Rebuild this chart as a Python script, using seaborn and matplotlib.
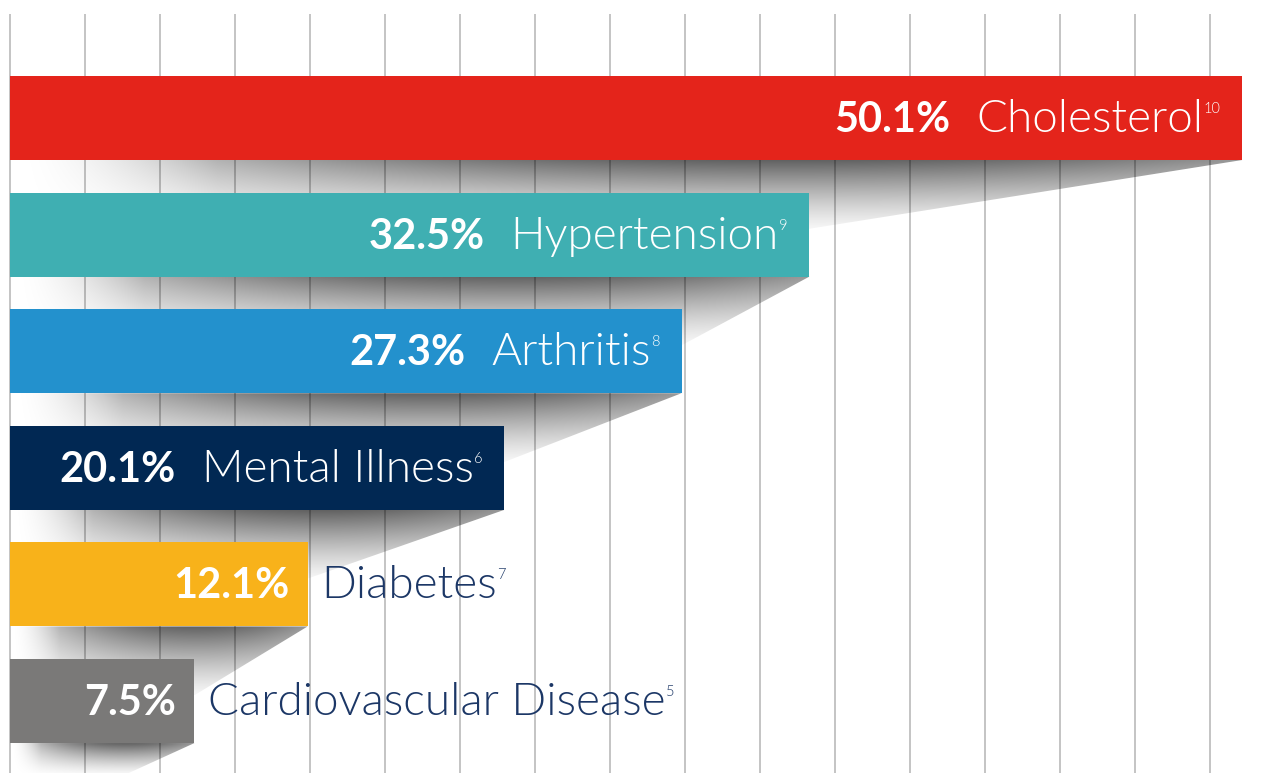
import numpy as np
import pandas as pd
import seaborn as sns
import matplotlib.pyplot as plt
from matplotlib.patches import Polygon

# data
conditions = ["Cholesterol", "Hypertension", "Arthritis", "Mental Illness", "Diabetes", "Cardiovascular Disease"]
rates = [50.1, 32.5, 27.3, 20.1, 12.1, 7.5]
refs = ["10", "9", "8", "6", "7", "5"]
colors = ["#E4241B", "#3FAFB2", "#2391CD", "#012853", "#F8B21A", "#7A7978"]

df = pd.DataFrame({"condition": conditions, "rate": rates})

sns.set_theme(style="white")
plt.rcParams['font.family'] = ['Lato', 'DejaVu Sans']

fig = plt.figure(figsize=(12.8, 7.73), dpi=100)
ax = fig.add_axes([0, 0, 1, 1])

sns.barplot(data=df, x="rate", y="condition", hue="condition", palette=colors,
            orient="h", width=0.72, saturation=1, legend=False, ax=ax, zorder=3,
            linewidth=0, edgecolor="none")

# axis frame in data units (pixel 10 is zero, ~24.6 px per percent)
ax.set_xlim(-0.407, 51.63)
ax.set_ylim(5.617, -1.012)
ax.axis("off")

# vertical grid
grid_step = 75 / 24.6
ax.vlines(np.arange(17) * grid_step, -0.892, 5.7, color="#b4b4b4", lw=1.1, zorder=1)

# gray gradient shadows under each bar
half = 0.36
for i, v in enumerate(rates):
    top = i + half
    if i + 1 < len(rates):
        x2, y2 = rates[i + 1], i + 1 - 0.05
    else:
        x2, y2 = v - 2.7, 5.62
    poly = Polygon([(0, top), (v, top), (x2, y2), (0, y2)], closed=True,
                   facecolor="none", edgecolor="none")
    ax.add_patch(poly)
    nx, ny = 300, 100
    u = np.linspace(0, 1, nx)[None, :]
    w = np.linspace(0, 1, ny)[:, None]
    a = 0.62 * np.sin(0.8 * np.pi * u) ** 0.8 * (1 - 0.85 * w) ** 1.5
    a *= np.clip(u * 6, 0, 1)
    img = np.zeros((ny, nx, 4))
    img[..., 3] = a
    im = ax.imshow(img, extent=(0, v, y2, top), origin="upper", aspect="auto",
                   interpolation="bilinear", zorder=2)
    im.set_clip_path(poly)

ax.set_xlim(-0.407, 51.63)
ax.set_ylim(5.617, -1.012)

# labels
fig.canvas.draw()
r = fig.canvas.get_renderer()
ppu = ax.transData.transform((1, 0))[0] - ax.transData.transform((0, 0))[0]

def width(t):
    return t.get_window_extent(r).width / ppu

name_size = 33
pct_size = 30
sup_size = 10.5
navy = "#1C3766"

for i, (v, name, ref) in enumerate(zip(rates, conditions, refs)):
    base = i + 0.12
    sup_base = base - 19 / 116.6
    pct = ax.text(0, base, f"{v}%", color="white", fontsize=pct_size, fontweight="bold",
                  ha="right", va="baseline", zorder=5)
    nm = ax.text(0, base, name, fontsize=name_size, fontweight=300,
                 ha="left", va="baseline", zorder=5)
    sp = ax.text(0, sup_base, ref, fontsize=sup_size, fontweight=300,
                 ha="left", va="baseline", zorder=5)
    if v > 15:
        nm.set_color("white")
        sp.set_color("white")
        sp_w = width(sp)
        nm_w = width(nm)
        sx = v - 22 / ppu - sp_w
        nx_ = sx - nm_w
        sp.set_x(sx)
        nm.set_x(nx_)
        pct.set_x(nx_ - 26 / ppu)
    else:
        nm.set_color(navy)
        sp.set_color(navy)
        pct.set_x(v - 18 / ppu)
        nm.set_x(v + 14 / ppu)
        sp.set_x(v + 14 / ppu + width(nm))

fig.savefig("out.png", dpi=100)
